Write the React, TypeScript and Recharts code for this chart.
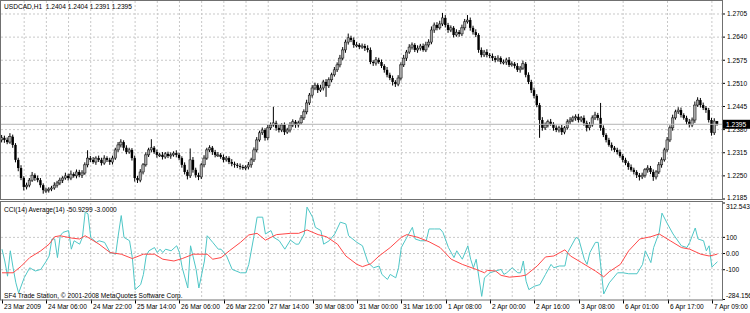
import React from "react";
import {
  Bar,
  CartesianGrid,
  ComposedChart,
  Line,
  ReferenceLine,
  XAxis,
  YAxis,
} from "recharts";

// USDCAD H1 closes, one per hourly bar (bar 0 = 23 Mar 2009)
const closes = [
  1.2357, 1.2351, 1.2345, 1.2360, 1.2337, 1.2295, 1.2272, 1.2244, 1.2219, 1.2224, 1.2238, 1.2252, 1.2244, 1.2238, 1.2224, 1.2210,
  1.2210, 1.2213, 1.2216, 1.2224, 1.2230, 1.2238, 1.2244, 1.2250, 1.2244, 1.2255, 1.2250, 1.2261, 1.2252, 1.2258, 1.2281, 1.2300,
  1.2295, 1.2289, 1.2300, 1.2295, 1.2286, 1.2300, 1.2295, 1.2289, 1.2300, 1.2323, 1.2337, 1.2345, 1.2329, 1.2317, 1.2323, 1.2300,
  1.2244, 1.2238, 1.2261, 1.2281, 1.2309, 1.2323, 1.2329, 1.2317, 1.2309, 1.2309, 1.2303, 1.2312, 1.2306, 1.2309, 1.2314, 1.2309,
  1.2300, 1.2281, 1.2261, 1.2250, 1.2295, 1.2267, 1.2252, 1.2247, 1.2281, 1.2300, 1.2323, 1.2329, 1.2317, 1.2309, 1.2309, 1.2303,
  1.2295, 1.2300, 1.2289, 1.2284, 1.2281, 1.2278, 1.2275, 1.2272, 1.2275, 1.2281, 1.2295, 1.2323, 1.2351, 1.2371, 1.2379, 1.2357,
  1.2385, 1.2393, 1.2399, 1.2385, 1.2379, 1.2393, 1.2373, 1.2379, 1.2393, 1.2402, 1.2393, 1.2399, 1.2413, 1.2430, 1.2455, 1.2477,
  1.2497, 1.2505, 1.2491, 1.2497, 1.2514, 1.2503, 1.2520, 1.2534, 1.2548, 1.2562, 1.2581, 1.2604, 1.2626, 1.2638, 1.2632, 1.2618,
  1.2618, 1.2612, 1.2615, 1.2609, 1.2604, 1.2570, 1.2567, 1.2576, 1.2570, 1.2559, 1.2548, 1.2534, 1.2525, 1.2514, 1.2508, 1.2525,
  1.2562, 1.2581, 1.2598, 1.2612, 1.2618, 1.2604, 1.2609, 1.2615, 1.2604, 1.2618, 1.2626, 1.2660, 1.2674, 1.2666, 1.2677, 1.2694,
  1.2674, 1.2660, 1.2666, 1.2646, 1.2654, 1.2649, 1.2666, 1.2683, 1.2688, 1.2666, 1.2654, 1.2646, 1.2604, 1.2590, 1.2598, 1.2590,
  1.2587, 1.2581, 1.2576, 1.2581, 1.2570, 1.2570, 1.2576, 1.2562, 1.2565, 1.2559, 1.2548, 1.2553, 1.2565, 1.2534, 1.2514, 1.2491,
  1.2475, 1.2449, 1.2407, 1.2385, 1.2393, 1.2402, 1.2396, 1.2385, 1.2379, 1.2385, 1.2373, 1.2385, 1.2402, 1.2407, 1.2413, 1.2416,
  1.2407, 1.2413, 1.2399, 1.2385, 1.2393, 1.2413, 1.2421, 1.2413, 1.2385, 1.2365, 1.2351, 1.2337, 1.2329, 1.2323, 1.2317, 1.2306,
  1.2295, 1.2286, 1.2275, 1.2267, 1.2261, 1.2252, 1.2247, 1.2252, 1.2267, 1.2272, 1.2261, 1.2247, 1.2261, 1.2281, 1.2295, 1.2323,
  1.2351, 1.2385, 1.2413, 1.2430, 1.2435, 1.2421, 1.2413, 1.2402, 1.2393, 1.2407, 1.2449, 1.2463, 1.2449, 1.2441, 1.2435, 1.2407,
  1.2371, 1.2404, 1.2395,
];
const firstOpen = 1.2351;

// wick lengths in pips above the body / below the body
const upperWicks = [
  8, 6, 7, 10, 6, 5, 6, 8, 5, 7, 6, 9, 5, 7, 6, 5,
  7, 5, 6, 8, 6, 7, 5, 9, 6, 10, 5, 7, 6, 8, 7, 22,
  6, 8, 5, 7, 6, 8, 5, 6, 7, 6, 8, 8, 5, 7, 6, 5,
  7, 6, 8, 5, 7, 6, 24, 5, 7, 6, 8, 5, 6, 7, 5, 8,
  6, 5, 7, 6, 32, 8, 6, 7, 5, 8, 6, 7, 5, 6, 8, 5,
  7, 6, 5, 8, 6, 5, 7, 6, 5, 8, 6, 7, 8, 6, 7, 5,
  8, 7, 45, 6, 8, 5, 7, 6, 8, 7, 5, 6, 8, 7, 9, 6,
  8, 7, 5, 9, 6, 8, 7, 6, 8, 7, 9, 8, 7, 12, 6, 7,
  8, 5, 7, 6, 8, 7, 5, 8, 6, 7, 5, 8, 6, 7, 5, 8,
  7, 9, 6, 8, 7, 5, 8, 6, 7, 9, 8, 10, 7, 8, 9, 14,
  8, 6, 7, 5, 8, 6, 9, 8, 14, 7, 6, 8, 5, 7, 6, 8,
  5, 7, 6, 8, 5, 7, 6, 8, 7, 5, 8, 6, 9, 5, 7, 6,
  7, 5, 6, 8, 7, 6, 8, 5, 7, 6, 8, 5, 7, 8, 6, 7,
  8, 5, 7, 6, 8, 7, 9, 6, 42, 7, 5, 6, 7, 5, 6, 7,
  5, 6, 5, 7, 6, 5, 6, 7, 5, 8, 6, 7, 5, 8, 7, 6,
  8, 7, 9, 6, 8, 7, 5, 6, 8, 7, 10, 8, 6, 7, 5, 6,
  6, 8, 0,
];
const lowerWicks = [
  7, 8, 6, 5, 8, 7, 9, 6, 10, 7, 6, 5, 8, 6, 7, 10,
  8, 7, 6, 5, 7, 6, 8, 5, 7, 6, 5, 7, 6, 8, 5, 7,
  6, 5, 8, 6, 7, 5, 6, 8, 7, 5, 6, 7, 8, 6, 5, 7,
  10, 8, 6, 7, 5, 6, 7, 5, 8, 6, 7, 5, 6, 8, 5, 7,
  6, 8, 7, 10, 6, 8, 7, 9, 6, 7, 5, 6, 8, 7, 6, 5,
  7, 5, 6, 7, 8, 6, 7, 5, 6, 7, 8, 6, 7, 5, 6, 8,
  7, 6, 5, 8, 7, 6, 8, 5, 7, 6, 8, 7, 5, 6, 7, 6,
  7, 6, 8, 5, 7, 31, 6, 7, 5, 6, 7, 6, 8, 7, 6, 8,
  7, 6, 5, 8, 7, 6, 8, 7, 5, 6, 8, 7, 6, 10, 8, 6,
  7, 6, 8, 5, 7, 6, 8, 7, 5, 6, 7, 6, 8, 7, 5, 6,
  7, 8, 6, 7, 5, 8, 6, 7, 5, 8, 7, 6, 8, 7, 6, 7,
  6, 8, 7, 5, 6, 7, 8, 6, 5, 7, 6, 8, 5, 7, 6, 8,
  7, 6, 50, 8, 6, 7, 5, 8, 6, 7, 8, 6, 5, 7, 6, 8,
  7, 6, 8, 10, 7, 5, 6, 7, 8, 6, 7, 5, 8, 6, 7, 5,
  7, 6, 8, 5, 7, 8, 10, 6, 7, 8, 6, 11, 7, 6, 8, 5,
  7, 6, 8, 5, 6, 7, 5, 8, 7, 6, 8, 5, 7, 6, 8, 7,
  8, 6, 4,
];

// CCI(14), read at these bar indexes
const cciBars = [
  0, 1, 2, 3, 4, 5, 6, 8, 10, 12, 14, 16, 17, 18, 19, 20, 21, 22, 24, 25, 26, 28, 29, 30, 31, 32, 34, 35, 37, 39, 41, 42,
  43, 44, 46, 47, 48, 50, 51, 52, 53, 55, 56, 57, 58, 59, 61, 63, 64, 65, 67, 68, 70, 71, 73, 74, 76, 78, 79, 81, 83, 86,
  88, 89, 91, 92, 94, 95, 97, 98, 100, 102, 104, 106, 107, 109, 110, 112, 113, 115, 116, 118, 120, 122, 124, 125, 128, 130,
  132, 134, 136, 137, 139, 140, 142, 143, 144, 146, 148, 149, 151, 153, 154, 156, 158, 159, 161, 163, 164, 166, 168, 169,
  170, 171, 173, 174, 176, 178, 180, 181, 182, 184, 186, 187, 188, 189, 190, 192, 194, 196, 198, 199, 201, 203, 204, 207,
  208, 210, 211, 212, 214, 215, 216, 217, 219, 222, 224, 226, 229, 231, 232, 234, 235, 237, 238, 240, 242, 245, 247, 248,
  250, 251, 253, 254, 255, 256, 257, 258,
];
const cciValues = [
  27, -46, -140, 17, -88, -181, -244, -150, -88, -108, -98, -46, -15, 90, 90, -25, 110, 131, 142, 27, 79, 58, 100, 256, 246, 100, 69, 79, 69, 6, -4, 121,
  235, 100, 79, -25, -223, -192, -129, -15, 17, 37, 6, 27, 6, 27, 17, 48, 6, -88, -213, 48, -98, -213, -46, 110, 69, 27, 27, -15, -98, -119,
  -119, -67, 121, 225, 225, 121, 142, 100, 79, 27, 83, 58, 58, 121, 287, 225, 162, 142, 58, 79, 121, 194, 183, 110, 69, 48,
  -56, -88, -77, -129, -160, -129, -150, -88, 37, 100, 162, 90, 79, 79, 152, 152, 152, 131, 37, -25, 17, -35, 48, -35,
  -88, -35, -265, -150, -119, -108, -98, -129, -119, -88, -119, -119, -46, -171, -223, -202, -192, -129, -67, -88, -77, -77, 6, 100,
  90, -35, -67, 6, 69, 69, -88, -250, -181, -119, -119, -125, -125, -67, 17, -56, 37, 131, 250, 183, 121, 48, 37, 69,
  158, 90, 79, 17, 48, -83, -67, -50.93,
];

// Average(14) of the CCI
const avgBars = [
  0, 4, 7, 10, 14, 17, 19, 21, 25, 28, 30, 32, 35, 39, 43, 47, 51, 55, 58, 62, 65, 69, 74, 76, 79, 82, 86, 89, 92, 95,
  99, 104, 107, 110, 114, 117, 121, 124, 128, 130, 133, 136, 140, 144, 146, 150, 154, 158, 162, 166, 171, 174, 175, 178,
  180, 183, 187, 189, 193, 196, 199, 203, 205, 209, 211, 214, 217, 219, 223, 226, 230, 234, 237, 241, 245, 248, 252, 255,
  257, 258,
];
const avgValues = [
  -119, -119, -77, -25, 17, 58, 104, 110, 96, 90, 110, 90, 58, 6, -4, -31, -4, -4, -35, -46, -31, -4, -4, -35, -25, 17, 69, 115, 125, 83,
  117, 125, 125, 146, 117, 104, 58, -15, -67, -81, -63, -15, 37, 100, 117, 100, 73, 37, -35, -67, -98, -119, -104, -108,
  -135, -146, -140, -133, -77, -21, -15, 23, -15, -56, -77, -108, -144, -112, -67, 17, 90, 104, 121, 79, 37, 27, -4, -15,
  -8, -3,
];

const priceTicks = [1.2185, 1.225, 1.2315, 1.238, 1.2445, 1.251, 1.2575, 1.264, 1.2705];
const lastPrice = 1.2395;
const cciTicks = [-284.156, -100, 0, 100, 312.543];
const cciTickLabels = ["-284.156", "-100", "0.00", "100", "312.543"];
const timeLabelBars = [0, 16, 32, 48, 64, 80, 96, 112, 128, 144, 160, 176, 192, 208, 224, 240, 256];
const timeLabels = [
  "23 Mar 2009", "24 Mar 06:00", "24 Mar 22:00", "25 Mar 14:00", "26 Mar 06:00", "26 Mar 22:00",
  "27 Mar 14:00", "30 Mar 08:00", "31 Mar 00:00", "31 Mar 16:00", "1 Apr 08:00", "2 Apr 00:00",
  "2 Apr 16:00", "3 Apr 08:00", "6 Apr 01:00", "6 Apr 17:00", "7 Apr 09:00",
];

const FONT = '"Liberation Sans", Arial, sans-serif';
const FS = 6.6;
const X_DOMAIN = [-0.36, 259.65];
const PRICE_DOMAIN = [1.21836, 1.27415];
const gridBars = Array.from({ length: 32 }, (_, k) => 8 * (k + 1));

// hourly bars open at the previous bar's close
const candles = closes.map((c, i) => {
  const open = i === 0 ? firstOpen : closes[i - 1];
  const high = Math.max(open, c) + upperWicks[i] / 10000;
  const low = Math.min(open, c) - lowerWicks[i] / 10000;
  return { i, open, close: c, high, low, range: [low, high] };
});
const cciPoints = cciBars.map((b, k) => ({ i: b, v: cciValues[k] }));
const avgPoints = avgBars.map((b, k) => ({ i: b, v: avgValues[k] }));

function Candle(props: any) {
  const { x, y, width, height, payload } = props;
  if (x == null || y == null || !payload) return null;
  const top = height < 0 ? y + height : y;
  const h = Math.abs(height);
  const { open, close, high, low } = payload;
  const span = high - low;
  const py = (v: number) => (span > 0 ? top + ((high - v) / span) * h : top);
  const cx = x + width / 2;
  const bTop = py(Math.max(open, close));
  const bBot = py(Math.min(open, close));
  const up = close >= open;
  return (
    <g>
      <line x1={cx} x2={cx} y1={top} y2={top + h} stroke="#000" strokeWidth={1} />
      <rect
        x={cx - 1.2}
        y={bTop}
        width={2.4}
        height={Math.max(bBot - bTop, 1)}
        fill={up ? "#a8a8a8" : "#000"}
        stroke="#000"
        strokeWidth={up ? 0.5 : 0}
      />
    </g>
  );
}

function PriceTick(props: any) {
  const { x, y, payload } = props;
  const k = priceTicks.indexOf(payload.value);
  return (
    <text x={x} y={y - (k === 0 ? 1.5 : 0)} dy="0.35em" fontSize={FS} fontFamily={FONT} fill="#000" textAnchor="start">
      {Number(payload.value).toFixed(4)}
    </text>
  );
}

function CciTick(props: any) {
  const { x, y, payload } = props;
  const k = cciTicks.indexOf(payload.value);
  const shift = k === cciTicks.length - 1 ? 4 : k === 0 ? -3.5 : 0;
  return (
    <text x={x - 1} y={y + shift} dy="0.35em" fontSize={FS} fontFamily={FONT} fill="#000" textAnchor="start">
      {cciTickLabels[k]}
    </text>
  );
}

function TimeTick(props: any) {
  const { x, y, payload } = props;
  const k = timeLabelBars.indexOf(payload.value);
  const tx = Math.round(x);
  return (
    <g>
      <line x1={tx + 0.5} x2={tx + 0.5} y1={y} y2={y + 4} stroke="#000" />
      <text x={tx + 2} y={y + 9} fontSize={FS} fontFamily={FONT} fill="#000" textAnchor="start">
        {timeLabels[k]}
      </text>
    </g>
  );
}

function PriceTag(props: any) {
  const vb = props.viewBox || {};
  const right = vb.x + vb.width;
  return (
    <g>
      <rect x={right + 1} y={vb.y - 4.5} width={27} height={9} fill="#000" />
      <text x={right + 4} y={vb.y} dy="0.35em" fontSize={FS} fontFamily={FONT} fill="#fff">
        {lastPrice.toFixed(4)}
      </text>
    </g>
  );
}

export default function App() {
  return (
    <div style={{ position: "absolute", left: 0, top: 0, width: 750, height: 313, background: "#fff" }}>
      <div style={{ position: "absolute", left: 0, top: 0 }}>
        <ComposedChart width={750} height={200} data={candles} margin={{ top: 1, right: 0, bottom: 0.5, left: 1 }}>
          <CartesianGrid
            stroke="#c8c8c8"
            strokeDasharray="2 2"
            horizontalValues={priceTicks.slice(1)}
            verticalValues={gridBars}
          />
          <XAxis type="number" dataKey="i" domain={X_DOMAIN} allowDataOverflow hide />
          <YAxis
            orientation="right"
            width={28}
            domain={PRICE_DOMAIN}
            allowDataOverflow
            ticks={priceTicks}
            interval={0}
            tickSize={3}
            tickMargin={2}
            axisLine={false}
            tickLine={{ stroke: "#000" }}
            tick={<PriceTick />}
          />
          <ReferenceLine y={lastPrice} stroke="#b4b4b4" label={<PriceTag />} />
          <Bar dataKey="range" shape={<Candle />} barSize={2} isAnimationActive={false} />
        </ComposedChart>
      </div>
      <div style={{ position: "absolute", left: 0, top: 200 }}>
        <ComposedChart width={750} height={113} data={cciPoints} margin={{ top: 3, right: 0, bottom: 0, left: 1 }}>
          <CartesianGrid
            stroke="#c8c8c8"
            strokeDasharray="2 2"
            horizontalValues={[100, 0, -100]}
            verticalValues={gridBars}
          />
          <XAxis
            type="number"
            dataKey="i"
            domain={X_DOMAIN}
            allowDataOverflow
            ticks={timeLabelBars}
            interval={0}
            height={13.5}
            tickSize={0}
            tickMargin={0}
            axisLine={false}
            tickLine={false}
            tick={<TimeTick />}
          />
          <YAxis
            orientation="right"
            width={28}
            domain={[cciTicks[0], cciTicks[cciTicks.length - 1]]}
            allowDataOverflow
            ticks={cciTicks}
            interval={0}
            tickSize={3}
            tickMargin={2}
            axisLine={false}
            tickLine={{ stroke: "#000" }}
            tick={<CciTick />}
          />
          <Line dataKey="v" type="linear" stroke="#4fc6c6" strokeWidth={1} dot={false} isAnimationActive={false} />
          <Line
            data={avgPoints}
            dataKey="v"
            type="linear"
            stroke="#ff4848"
            strokeWidth={1}
            dot={false}
            isAnimationActive={false}
          />
        </ComposedChart>
      </div>
      <svg
        width={750}
        height={313}
        style={{ position: "absolute", left: 0, top: 0, pointerEvents: "none" }}
      >
        <rect x={0.5} y={0.5} width={722} height={199} fill="none" stroke="#707070" />
        <rect x={0.5} y={201.5} width={722} height={98.5} fill="none" stroke="#707070" />
        <text x={4} y={9} fontSize={FS} fontFamily={FONT} fill="#000" style={{ whiteSpace: "pre" }}>
          {"USDCAD,H1  1.2404 1.2404 1.2391 1.2395"}
        </text>
        <text x={4} y={212} fontSize={FS} fontFamily={FONT} fill="#000" style={{ whiteSpace: "pre" }}>
          {"CCI(14) Average(14) -50.9299 -3.0000"}
        </text>
        <text x={4} y={298} fontSize={FS} fontFamily={FONT} fill="#000">
          SF4 Trade Station, © 2001-2008 MetaQuotes Software Corp.
        </text>
      </svg>
    </div>
  );
}
